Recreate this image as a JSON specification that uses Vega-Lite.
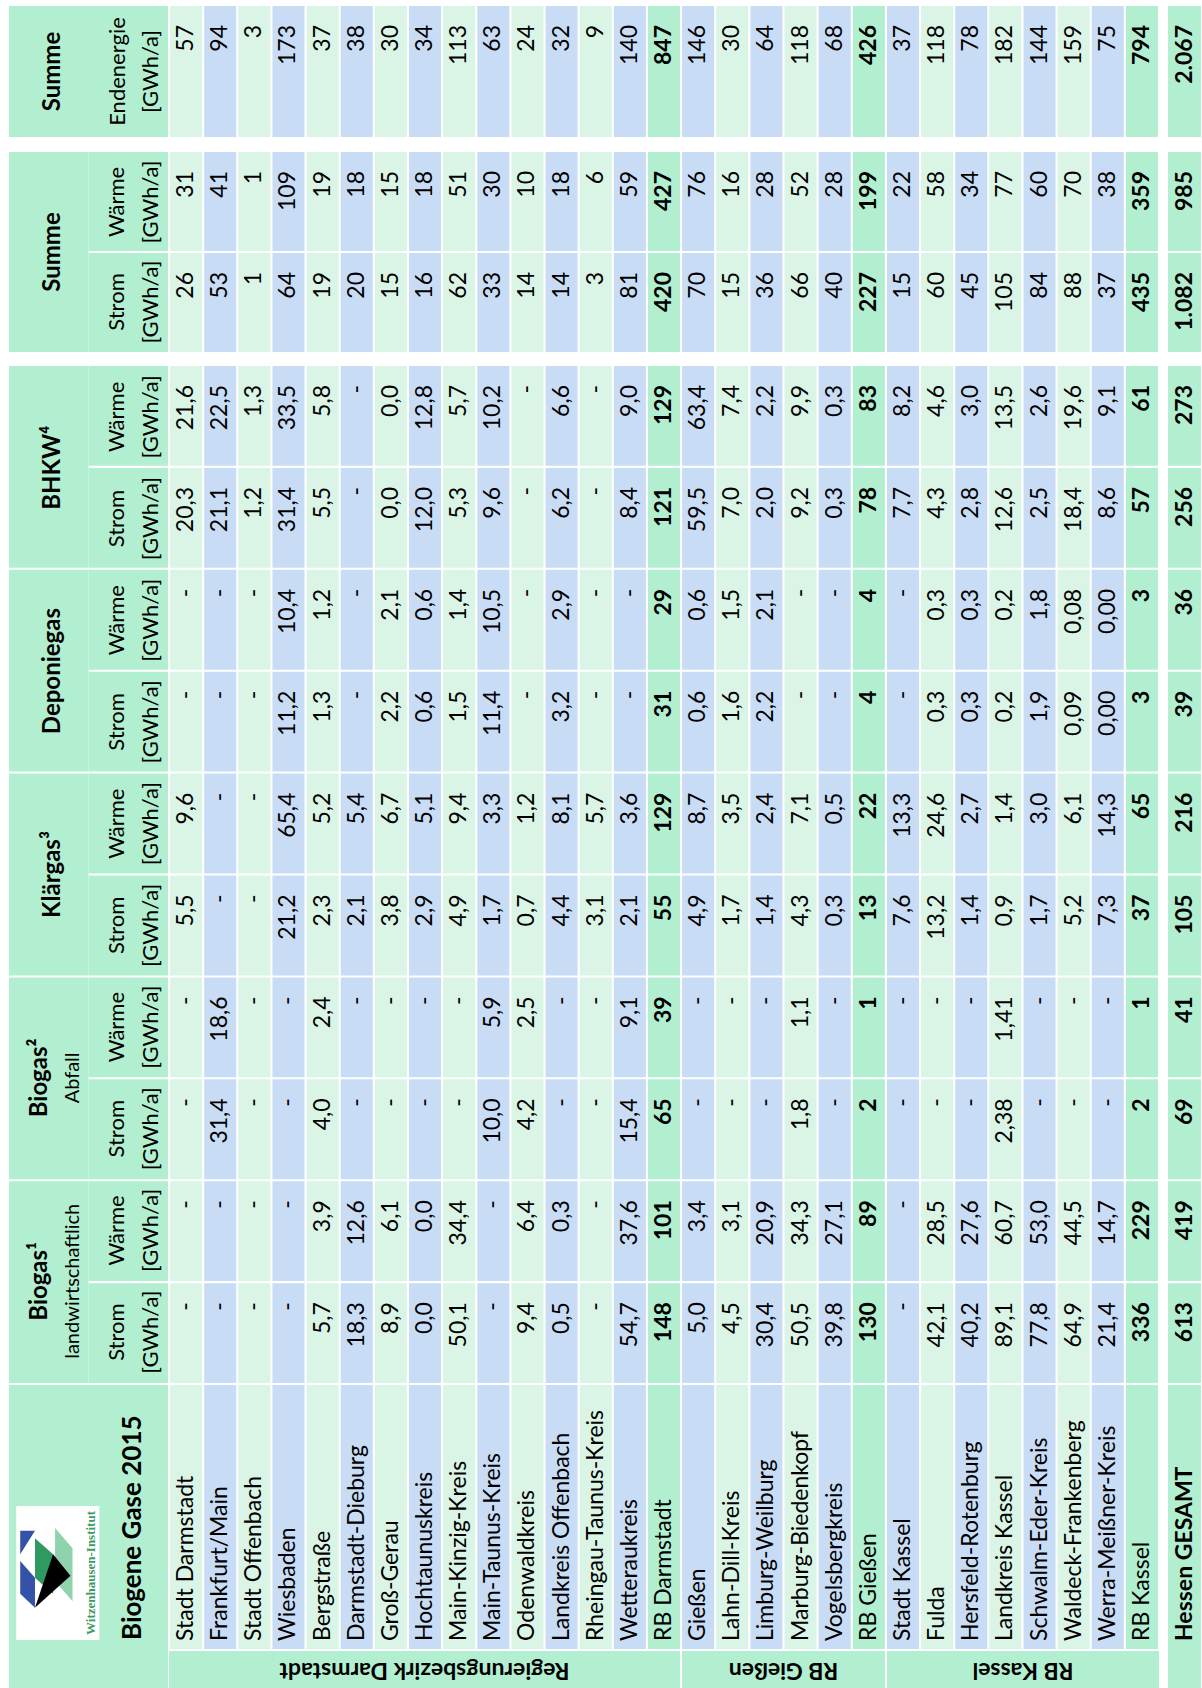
{
"$schema":"https://vega.github.io/schema/vega-lite/v6.json",
"background":"white",
"padding":{"left":9,"top":6,"right":0,"bottom":0},
"config":{"view":{"stroke":null},"text":{"font":"Lato","fontSize":23,"angle":270,"baseline":"middle","color":"#000000"},"rect":{"strokeWidth":0}},
"datasets":{
"t":[
{"r":"Stadt Darmstadt","lS":"-","lW":"-","aS":"-","aW":"-","kS":"5,5","kW":"9,6","dS":"-","dW":"-","bS":"20,3","bW":"21,6","sS":"26","sW":"31","e":"57"},
{"r":"Frankfurt/Main","lS":"-","lW":"-","aS":"31,4","aW":"18,6","kS":"-","kW":"-","dS":"-","dW":"-","bS":"21,1","bW":"22,5","sS":"53","sW":"41","e":"94"},
{"r":"Stadt Offenbach","lS":"-","lW":"-","aS":"-","aW":"-","kS":"-","kW":"-","dS":"-","dW":"-","bS":"1,2","bW":"1,3","sS":"1","sW":"1","e":"3"},
{"r":"Wiesbaden","lS":"-","lW":"-","aS":"-","aW":"-","kS":"21,2","kW":"65,4","dS":"11,2","dW":"10,4","bS":"31,4","bW":"33,5","sS":"64","sW":"109","e":"173"},
{"r":"Bergstraße","lS":"5,7","lW":"3,9","aS":"4,0","aW":"2,4","kS":"2,3","kW":"5,2","dS":"1,3","dW":"1,2","bS":"5,5","bW":"5,8","sS":"19","sW":"19","e":"37"},
{"r":"Darmstadt-Dieburg","lS":"18,3","lW":"12,6","aS":"-","aW":"-","kS":"2,1","kW":"5,4","dS":"-","dW":"-","bS":"-","bW":"-","sS":"20","sW":"18","e":"38"},
{"r":"Groß-Gerau","lS":"8,9","lW":"6,1","aS":"-","aW":"-","kS":"3,8","kW":"6,7","dS":"2,2","dW":"2,1","bS":"0,0","bW":"0,0","sS":"15","sW":"15","e":"30"},
{"r":"Hochtaunuskreis","lS":"0,0","lW":"0,0","aS":"-","aW":"-","kS":"2,9","kW":"5,1","dS":"0,6","dW":"0,6","bS":"12,0","bW":"12,8","sS":"16","sW":"18","e":"34"},
{"r":"Main-Kinzig-Kreis","lS":"50,1","lW":"34,4","aS":"-","aW":"-","kS":"4,9","kW":"9,4","dS":"1,5","dW":"1,4","bS":"5,3","bW":"5,7","sS":"62","sW":"51","e":"113"},
{"r":"Main-Taunus-Kreis","lS":"-","lW":"-","aS":"10,0","aW":"5,9","kS":"1,7","kW":"3,3","dS":"11,4","dW":"10,5","bS":"9,6","bW":"10,2","sS":"33","sW":"30","e":"63"},
{"r":"Odenwaldkreis","lS":"9,4","lW":"6,4","aS":"4,2","aW":"2,5","kS":"0,7","kW":"1,2","dS":"-","dW":"-","bS":"-","bW":"-","sS":"14","sW":"10","e":"24"},
{"r":"Landkreis Offenbach","lS":"0,5","lW":"0,3","aS":"-","aW":"-","kS":"4,4","kW":"8,1","dS":"3,2","dW":"2,9","bS":"6,2","bW":"6,6","sS":"14","sW":"18","e":"32"},
{"r":"Rheingau-Taunus-Kreis","lS":"-","lW":"-","aS":"-","aW":"-","kS":"3,1","kW":"5,7","dS":"-","dW":"-","bS":"-","bW":"-","sS":"3","sW":"6","e":"9"},
{"r":"Wetteraukreis","lS":"54,7","lW":"37,6","aS":"15,4","aW":"9,1","kS":"2,1","kW":"3,6","dS":"-","dW":"-","bS":"8,4","bW":"9,0","sS":"81","sW":"59","e":"140"},
{"r":"RB Darmstadt","lS":"148","lW":"101","aS":"65","aW":"39","kS":"55","kW":"129","dS":"31","dW":"29","bS":"121","bW":"129","sS":"420","sW":"427","e":"847"},
{"r":"Gießen","lS":"5,0","lW":"3,4","aS":"-","aW":"-","kS":"4,9","kW":"8,7","dS":"0,6","dW":"0,6","bS":"59,5","bW":"63,4","sS":"70","sW":"76","e":"146"},
{"r":"Lahn-Dill-Kreis","lS":"4,5","lW":"3,1","aS":"-","aW":"-","kS":"1,7","kW":"3,5","dS":"1,6","dW":"1,5","bS":"7,0","bW":"7,4","sS":"15","sW":"16","e":"30"},
{"r":"Limburg-Weilburg","lS":"30,4","lW":"20,9","aS":"-","aW":"-","kS":"1,4","kW":"2,4","dS":"2,2","dW":"2,1","bS":"2,0","bW":"2,2","sS":"36","sW":"28","e":"64"},
{"r":"Marburg-Biedenkopf","lS":"50,5","lW":"34,3","aS":"1,8","aW":"1,1","kS":"4,3","kW":"7,1","dS":"-","dW":"-","bS":"9,2","bW":"9,9","sS":"66","sW":"52","e":"118"},
{"r":"Vogelsbergkreis","lS":"39,8","lW":"27,1","aS":"-","aW":"-","kS":"0,3","kW":"0,5","dS":"-","dW":"-","bS":"0,3","bW":"0,3","sS":"40","sW":"28","e":"68"},
{"r":"RB Gießen","lS":"130","lW":"89","aS":"2","aW":"1","kS":"13","kW":"22","dS":"4","dW":"4","bS":"78","bW":"83","sS":"227","sW":"199","e":"426"},
{"r":"Stadt Kassel","lS":"-","lW":"-","aS":"-","aW":"-","kS":"7,6","kW":"13,3","dS":"-","dW":"-","bS":"7,7","bW":"8,2","sS":"15","sW":"22","e":"37"},
{"r":"Fulda","lS":"42,1","lW":"28,5","aS":"-","aW":"-","kS":"13,2","kW":"24,6","dS":"0,3","dW":"0,3","bS":"4,3","bW":"4,6","sS":"60","sW":"58","e":"118"},
{"r":"Hersfeld-Rotenburg","lS":"40,2","lW":"27,6","aS":"-","aW":"-","kS":"1,4","kW":"2,7","dS":"0,3","dW":"0,3","bS":"2,8","bW":"3,0","sS":"45","sW":"34","e":"78"},
{"r":"Landkreis Kassel","lS":"89,1","lW":"60,7","aS":"2,38","aW":"1,41","kS":"0,9","kW":"1,4","dS":"0,2","dW":"0,2","bS":"12,6","bW":"13,5","sS":"105","sW":"77","e":"182"},
{"r":"Schwalm-Eder-Kreis","lS":"77,8","lW":"53,0","aS":"-","aW":"-","kS":"1,7","kW":"3,0","dS":"1,9","dW":"1,8","bS":"2,5","bW":"2,6","sS":"84","sW":"60","e":"144"},
{"r":"Waldeck-Frankenberg","lS":"64,9","lW":"44,5","aS":"-","aW":"-","kS":"5,2","kW":"6,1","dS":"0,09","dW":"0,08","bS":"18,4","bW":"19,6","sS":"88","sW":"70","e":"159"},
{"r":"Werra-Meißner-Kreis","lS":"21,4","lW":"14,7","aS":"-","aW":"-","kS":"7,3","kW":"14,3","dS":"0,00","dW":"0,00","bS":"8,6","bW":"9,1","sS":"37","sW":"38","e":"75"},
{"r":"RB Kassel","lS":"336","lW":"229","aS":"2","aW":"1","kS":"37","kW":"65","dS":"3","dW":"3","bS":"57","bW":"61","sS":"435","sW":"359","e":"794"},
{"r":"Hessen GESAMT","lS":"613","lW":"419","aS":"69","aW":"41","kS":"105","kW":"216","dS":"39","dW":"36","bS":"256","bW":"273","sS":"1.082","sW":"985","e":"2.067"}
],
"g5":[{"g":"b","txt":"BHKW⁴"},{"g":"d","txt":"Deponiegas"},{"g":"k","txt":"Klärgas³"},{"g":"a","txt":"Biogas²","sub":"Abfall"},{"g":"l","txt":"Biogas¹","sub":"landwirtschaftlich"}],
"sub10":[{"m":"bW","lab":"Wärme"},{"m":"bS","lab":"Strom"},{"m":"dW","lab":"Wärme"},{"m":"dS","lab":"Strom"},{"m":"kW","lab":"Wärme"},{"m":"kS","lab":"Strom"},{"m":"aW","lab":"Wärme"},{"m":"aS","lab":"Strom"},{"m":"lW","lab":"Wärme"},{"m":"lS","lab":"Strom"}]
},
"hconcat":[
{"hconcat":[
{"vconcat":[
 {"width":159,"height":131,"view":{"fill":"#b2efd0","stroke":null},
  "data":{"values":[{"a":"Summe","b":"Endenergie"}]},
  "layer":[
   {"mark":{"type":"text","fontWeight":"bold","fontSize":24,"align":"center","xOffset":4,"clip":true},
    "encoding":{"x":{"datum":"t","type":"nominal","scale":{"domain":["t","s"],"paddingInner":0,"paddingOuter":0},"axis":null},"text":{"field":"a"}}},
   {"mark":{"type":"text","fontSize":22,"align":"center","xOffset":-10,"clip":true},
    "encoding":{"x":{"datum":"s","type":"nominal","scale":{"domain":["t","s"],"paddingInner":0,"paddingOuter":0},"axis":null},"text":{"field":"b"}}},
   {"mark":{"type":"text","fontSize":22,"align":"center","xOffset":23,"clip":true},
    "encoding":{"x":{"datum":"s","type":"nominal","scale":{"domain":["t","s"],"paddingInner":0,"paddingOuter":0},"axis":null},"text":{"value":"[GWh/a]"}}}
  ]},
 {"vconcat":[
  {"width":159,"height":200,
   "resolve":{"scale":{"y":"independent"}},
   "layer":[
    {"data":{"values":[{"g":"S","txt":"Summe"}]},"mark":{"type":"rect","color":"#b2efd0"},
     "encoding":{"x":{"datum":"t","type":"nominal","scale":{"domain":["t","s"],"paddingInner":0,"paddingOuter":0},"axis":null},"y":{"field":"g","type":"nominal","scale":{"domain":["S"],"paddingInner":0,"paddingOuter":0},"axis":null}}},
    {"data":{"values":[{"m":"sW","lab":"Wärme"},{"m":"sS","lab":"Strom"}]},"mark":{"type":"rect","color":"#b2efd0"},
     "encoding":{"x":{"datum":"s","type":"nominal","scale":{"domain":["t","s"],"paddingInner":0,"paddingOuter":0},"axis":null},"y":{"field":"m","type":"nominal","scale":{"domain":["sW","sS"],"paddingInner":0.02,"paddingOuter":0},"axis":null}}},
    {"data":{"values":[{"g":"S","txt":"Summe"}]},"mark":{"type":"text","fontWeight":"bold","fontSize":24,"align":"center","xOffset":4,"clip":true},
     "encoding":{"x":{"datum":"t","type":"nominal","scale":{"domain":["t","s"],"paddingInner":0,"paddingOuter":0},"axis":null},"y":{"field":"g","type":"nominal","scale":{"domain":["S"],"paddingInner":0,"paddingOuter":0},"axis":null},"text":{"field":"txt"}}},
    {"data":{"values":[{"m":"sW","lab":"Wärme"},{"m":"sS","lab":"Strom"}]},"mark":{"type":"text","fontSize":22,"align":"center","xOffset":-11,"clip":true},
     "encoding":{"x":{"datum":"s","type":"nominal","scale":{"domain":["t","s"],"paddingInner":0,"paddingOuter":0},"axis":null},"y":{"field":"m","type":"nominal","scale":{"domain":["sW","sS"],"paddingInner":0.02,"paddingOuter":0},"axis":null},"text":{"field":"lab"}}},
    {"data":{"values":[{"m":"sW","lab":"Wärme"},{"m":"sS","lab":"Strom"}]},"mark":{"type":"text","fontSize":22,"align":"center","xOffset":23,"clip":true},
     "encoding":{"x":{"datum":"s","type":"nominal","scale":{"domain":["t","s"],"paddingInner":0,"paddingOuter":0},"axis":null},"y":{"field":"m","type":"nominal","scale":{"domain":["sW","sS"],"paddingInner":0.02,"paddingOuter":0},"axis":null},"text":{"value":"[GWh/a]"}}}
   ]},
  {"vconcat":[
   {"width":159,"height":1017,
    "resolve":{"scale":{"y":"independent"}},
    "layer":[
     {"data":{"name":"g5"},"mark":{"type":"rect","color":"#b2efd0"},
      "encoding":{"x":{"datum":"t","type":"nominal","scale":{"domain":["t","s"],"paddingInner":0,"paddingOuter":0},"axis":null},"y":{"field":"g","type":"nominal","scale":{"domain":["b","d","k","a","l"],"paddingInner":0.01,"paddingOuter":0},"axis":null}}},
     {"data":{"name":"sub10"},"mark":{"type":"rect","color":"#b2efd0"},
      "encoding":{"x":{"datum":"s","type":"nominal","scale":{"domain":["t","s"],"paddingInner":0,"paddingOuter":0},"axis":null},"y":{"field":"m","type":"nominal","scale":{"domain":["bW","bS","dW","dS","kW","kS","aW","aS","lW","lS"],"paddingInner":0.02,"paddingOuter":0},"axis":null}}},
     {"data":{"name":"g5"},"transform":[{"filter":"!datum.sub"}],"mark":{"type":"text","fontWeight":"bold","fontSize":24,"align":"center","xOffset":4,"clip":true},
      "encoding":{"x":{"datum":"t","type":"nominal","scale":{"domain":["t","s"],"paddingInner":0,"paddingOuter":0},"axis":null},"y":{"field":"g","type":"nominal","scale":{"domain":["b","d","k","a","l"],"paddingInner":0.01,"paddingOuter":0},"axis":null},"text":{"field":"txt"}}},
     {"data":{"name":"g5"},"transform":[{"filter":"datum.sub"}],"mark":{"type":"text","fontWeight":"bold","fontSize":24,"align":"center","xOffset":-9,"clip":true},
      "encoding":{"x":{"datum":"t","type":"nominal","scale":{"domain":["t","s"],"paddingInner":0,"paddingOuter":0},"axis":null},"y":{"field":"g","type":"nominal","scale":{"domain":["b","d","k","a","l"],"paddingInner":0.01,"paddingOuter":0},"axis":null},"text":{"field":"txt"}}},
     {"data":{"name":"g5"},"transform":[{"filter":"datum.sub"}],"mark":{"type":"text","fontSize":20,"align":"center","xOffset":24,"clip":true},
      "encoding":{"x":{"datum":"t","type":"nominal","scale":{"domain":["t","s"],"paddingInner":0,"paddingOuter":0},"axis":null},"y":{"field":"g","type":"nominal","scale":{"domain":["b","d","k","a","l"],"paddingInner":0.01,"paddingOuter":0},"axis":null},"text":{"field":"sub"}}},
     {"data":{"name":"sub10"},"mark":{"type":"text","fontSize":22,"align":"center","xOffset":-11,"clip":true},
      "encoding":{"x":{"datum":"s","type":"nominal","scale":{"domain":["t","s"],"paddingInner":0,"paddingOuter":0},"axis":null},"y":{"field":"m","type":"nominal","scale":{"domain":["bW","bS","dW","dS","kW","kS","aW","aS","lW","lS"],"paddingInner":0.02,"paddingOuter":0},"axis":null},"text":{"field":"lab"}}},
     {"data":{"name":"sub10"},"mark":{"type":"text","fontSize":22,"align":"center","xOffset":23,"clip":true},
      "encoding":{"x":{"datum":"s","type":"nominal","scale":{"domain":["t","s"],"paddingInner":0,"paddingOuter":0},"axis":null},"y":{"field":"m","type":"nominal","scale":{"domain":["bW","bS","dW","dS","kW","kS","aW","aS","lW","lS"],"paddingInner":0.02,"paddingOuter":0},"axis":null},"text":{"value":"[GWh/a]"}}}
    ]},
   {"width":159,"height":304,"view":{"fill":"#b2efd0","stroke":null},
    "data":{"values":[{"a":"Biogene Gase 2015","w":"Witzenhausen-Institut"}]},
    "encoding":{"x":{"datum":"t","type":"nominal","scale":{"domain":["t","s"],"paddingInner":0,"paddingOuter":0},"axis":null}},
    "layer":[
     {"mark":{"type":"text","fontWeight":"bold","fontSize":26,"align":"left","xOffset":84,"yOffset":103,"clip":true},"encoding":{"text":{"field":"a"}}},
     {"mark":{"type":"point","shape":"M-0.62,-1L0.62,-1L0.62,1L-0.62,1Z","size":17956,"filled":true,"color":"#ffffff","opacity":1,"strokeWidth":0,"xOffset":9,"yOffset":36,"clip":true}},
     {"mark":{"type":"point","shape":"M-0.56,-0.63L-0.34,-0.63L-0.56,-0.28Z M-0.56,-0.18L-0.34,0.07L-0.34,0.52L-0.56,0.31Z","size":17956,"filled":true,"color":"#3352a8","opacity":1,"strokeWidth":0,"xOffset":9,"yOffset":36,"clip":true}},
     {"mark":{"type":"point","shape":"M-0.34,-0.52L-0.07,-0.28L-0.07,0.31L-0.34,0.07Z","size":17956,"filled":true,"color":"#2e9960","opacity":1,"strokeWidth":0,"xOffset":9,"yOffset":36,"clip":true}},
     {"mark":{"type":"point","shape":"M-0.04,-0.67L0.22,-0.37L0.22,0.42L-0.04,0.12Z","size":17956,"filled":true,"color":"#8fd3ad","opacity":1,"strokeWidth":0,"xOffset":9,"yOffset":36,"clip":true}},
     {"mark":{"type":"point","shape":"M-0.07,-0.28L0.19,0.04L-0.34,0.52Z","size":17956,"filled":true,"color":"#000000","opacity":1,"strokeWidth":0,"xOffset":9,"yOffset":36,"clip":true}},
     {"mark":{"type":"text","font":"Liberation Serif","fontWeight":"bold","fontSize":13,"color":"#3d9a63","align":"center","xOffset":42,"yOffset":36,"clip":true},"encoding":{"text":{"field":"w"}}}
    ]}
  ],"spacing":2}
 ],"spacing":13}
],"spacing":15},
{"vconcat":[
 {"width":990,"height":131,
  "data":{"name":"t"},
  "transform":[{"filter":"datum.r !== 'Hessen GESAMT'"},{"fold":["e"],"as":["m","v"]}],
  "encoding":{"x":{"field":"r","type":"nominal","scale":{"domain":["Stadt Darmstadt","Frankfurt/Main","Stadt Offenbach","Wiesbaden","Bergstraße","Darmstadt-Dieburg","Groß-Gerau","Hochtaunuskreis","Main-Kinzig-Kreis","Main-Taunus-Kreis","Odenwaldkreis","Landkreis Offenbach","Rheingau-Taunus-Kreis","Wetteraukreis","RB Darmstadt","Gießen","Lahn-Dill-Kreis","Limburg-Weilburg","Marburg-Biedenkopf","Vogelsbergkreis","RB Gießen","Stadt Kassel","Fulda","Hersfeld-Rotenburg","Landkreis Kassel","Schwalm-Eder-Kreis","Waldeck-Frankenberg","Werra-Meißner-Kreis","RB Kassel"],"paddingInner":0.06,"paddingOuter":0.03},"axis":null},
   "y":{"field":"m","type":"nominal","scale":{"domain":["e"],"paddingInner":0,"paddingOuter":0},"axis":null}},
  "layer":[
   {"mark":"rect","encoding":{"color":{"field":"r","type":"nominal","scale":{"domain":["Stadt Darmstadt","Frankfurt/Main","Stadt Offenbach","Wiesbaden","Bergstraße","Darmstadt-Dieburg","Groß-Gerau","Hochtaunuskreis","Main-Kinzig-Kreis","Main-Taunus-Kreis","Odenwaldkreis","Landkreis Offenbach","Rheingau-Taunus-Kreis","Wetteraukreis","RB Darmstadt","Gießen","Lahn-Dill-Kreis","Limburg-Weilburg","Marburg-Biedenkopf","Vogelsbergkreis","RB Gießen","Stadt Kassel","Fulda","Hersfeld-Rotenburg","Landkreis Kassel","Schwalm-Eder-Kreis","Waldeck-Frankenberg","Werra-Meißner-Kreis","RB Kassel","Hessen GESAMT"],"range":["#daf5e6","#c9dcf5","#daf5e6","#c9dcf5","#daf5e6","#c9dcf5","#daf5e6","#c9dcf5","#daf5e6","#c9dcf5","#daf5e6","#c9dcf5","#daf5e6","#c9dcf5","#b2efd0","#c9dcf5","#daf5e6","#c9dcf5","#daf5e6","#c9dcf5","#b2efd0","#c9dcf5","#daf5e6","#c9dcf5","#daf5e6","#c9dcf5","#daf5e6","#c9dcf5","#b2efd0","#b2efd0"]},"legend":null}}},
   {"transform":[{"filter":{"not":{"field":"r","oneOf":["RB Darmstadt","RB Gießen","RB Kassel"]}}}],"mark":{"type":"text","align":"right","yOffset":19},
    "encoding":{"y":{"field":"m","type":"nominal","bandPosition":0,"scale":{"domain":["e"],"paddingInner":0,"paddingOuter":0},"axis":null},"text":{"field":"v"}}},
   {"transform":[{"filter":{"field":"r","oneOf":["RB Darmstadt","RB Gießen","RB Kassel"]}}],"mark":{"type":"text","align":"right","yOffset":19,"fontWeight":"bold"},
    "encoding":{"y":{"field":"m","type":"nominal","bandPosition":0,"scale":{"domain":["e"],"paddingInner":0,"paddingOuter":0},"axis":null},"text":{"field":"v"}}}
  ]},
 {"vconcat":[
  {"width":990,"height":200,
   "data":{"name":"t"},
   "transform":[{"filter":"datum.r !== 'Hessen GESAMT'"},{"fold":["sW","sS"],"as":["m","v"]}],
   "encoding":{"x":{"field":"r","type":"nominal","scale":{"domain":["Stadt Darmstadt","Frankfurt/Main","Stadt Offenbach","Wiesbaden","Bergstraße","Darmstadt-Dieburg","Groß-Gerau","Hochtaunuskreis","Main-Kinzig-Kreis","Main-Taunus-Kreis","Odenwaldkreis","Landkreis Offenbach","Rheingau-Taunus-Kreis","Wetteraukreis","RB Darmstadt","Gießen","Lahn-Dill-Kreis","Limburg-Weilburg","Marburg-Biedenkopf","Vogelsbergkreis","RB Gießen","Stadt Kassel","Fulda","Hersfeld-Rotenburg","Landkreis Kassel","Schwalm-Eder-Kreis","Waldeck-Frankenberg","Werra-Meißner-Kreis","RB Kassel"],"paddingInner":0.06,"paddingOuter":0.03},"axis":null},
    "y":{"field":"m","type":"nominal","scale":{"domain":["sW","sS"],"paddingInner":0.02,"paddingOuter":0},"axis":null}},
   "layer":[
    {"mark":"rect","encoding":{"color":{"field":"r","type":"nominal","scale":{"domain":["Stadt Darmstadt","Frankfurt/Main","Stadt Offenbach","Wiesbaden","Bergstraße","Darmstadt-Dieburg","Groß-Gerau","Hochtaunuskreis","Main-Kinzig-Kreis","Main-Taunus-Kreis","Odenwaldkreis","Landkreis Offenbach","Rheingau-Taunus-Kreis","Wetteraukreis","RB Darmstadt","Gießen","Lahn-Dill-Kreis","Limburg-Weilburg","Marburg-Biedenkopf","Vogelsbergkreis","RB Gießen","Stadt Kassel","Fulda","Hersfeld-Rotenburg","Landkreis Kassel","Schwalm-Eder-Kreis","Waldeck-Frankenberg","Werra-Meißner-Kreis","RB Kassel","Hessen GESAMT"],"range":["#daf5e6","#c9dcf5","#daf5e6","#c9dcf5","#daf5e6","#c9dcf5","#daf5e6","#c9dcf5","#daf5e6","#c9dcf5","#daf5e6","#c9dcf5","#daf5e6","#c9dcf5","#b2efd0","#c9dcf5","#daf5e6","#c9dcf5","#daf5e6","#c9dcf5","#b2efd0","#c9dcf5","#daf5e6","#c9dcf5","#daf5e6","#c9dcf5","#daf5e6","#c9dcf5","#b2efd0","#b2efd0"]},"legend":null}}},
    {"transform":[{"filter":{"not":{"field":"r","oneOf":["RB Darmstadt","RB Gießen","RB Kassel"]}}}],"mark":{"type":"text","align":"right","yOffset":19},
     "encoding":{"y":{"field":"m","type":"nominal","bandPosition":0,"scale":{"domain":["sW","sS"],"paddingInner":0.02,"paddingOuter":0},"axis":null},"text":{"field":"v"}}},
    {"transform":[{"filter":{"field":"r","oneOf":["RB Darmstadt","RB Gießen","RB Kassel"]}}],"mark":{"type":"text","align":"right","yOffset":19,"fontWeight":"bold"},
     "encoding":{"y":{"field":"m","type":"nominal","bandPosition":0,"scale":{"domain":["sW","sS"],"paddingInner":0.02,"paddingOuter":0},"axis":null},"text":{"field":"v"}}}
   ]},
  {"vconcat":[
   {"width":990,"height":1017,
    "data":{"name":"t"},
    "transform":[{"filter":"datum.r !== 'Hessen GESAMT'"},{"fold":["bW","bS","dW","dS","kW","kS","aW","aS","lW","lS"],"as":["m","v"]}],
    "encoding":{"x":{"field":"r","type":"nominal","scale":{"domain":["Stadt Darmstadt","Frankfurt/Main","Stadt Offenbach","Wiesbaden","Bergstraße","Darmstadt-Dieburg","Groß-Gerau","Hochtaunuskreis","Main-Kinzig-Kreis","Main-Taunus-Kreis","Odenwaldkreis","Landkreis Offenbach","Rheingau-Taunus-Kreis","Wetteraukreis","RB Darmstadt","Gießen","Lahn-Dill-Kreis","Limburg-Weilburg","Marburg-Biedenkopf","Vogelsbergkreis","RB Gießen","Stadt Kassel","Fulda","Hersfeld-Rotenburg","Landkreis Kassel","Schwalm-Eder-Kreis","Waldeck-Frankenberg","Werra-Meißner-Kreis","RB Kassel"],"paddingInner":0.06,"paddingOuter":0.03},"axis":null},
     "y":{"field":"m","type":"nominal","scale":{"domain":["bW","bS","dW","dS","kW","kS","aW","aS","lW","lS"],"paddingInner":0.02,"paddingOuter":0},"axis":null}},
    "layer":[
     {"mark":"rect","encoding":{"color":{"field":"r","type":"nominal","scale":{"domain":["Stadt Darmstadt","Frankfurt/Main","Stadt Offenbach","Wiesbaden","Bergstraße","Darmstadt-Dieburg","Groß-Gerau","Hochtaunuskreis","Main-Kinzig-Kreis","Main-Taunus-Kreis","Odenwaldkreis","Landkreis Offenbach","Rheingau-Taunus-Kreis","Wetteraukreis","RB Darmstadt","Gießen","Lahn-Dill-Kreis","Limburg-Weilburg","Marburg-Biedenkopf","Vogelsbergkreis","RB Gießen","Stadt Kassel","Fulda","Hersfeld-Rotenburg","Landkreis Kassel","Schwalm-Eder-Kreis","Waldeck-Frankenberg","Werra-Meißner-Kreis","RB Kassel","Hessen GESAMT"],"range":["#daf5e6","#c9dcf5","#daf5e6","#c9dcf5","#daf5e6","#c9dcf5","#daf5e6","#c9dcf5","#daf5e6","#c9dcf5","#daf5e6","#c9dcf5","#daf5e6","#c9dcf5","#b2efd0","#c9dcf5","#daf5e6","#c9dcf5","#daf5e6","#c9dcf5","#b2efd0","#c9dcf5","#daf5e6","#c9dcf5","#daf5e6","#c9dcf5","#daf5e6","#c9dcf5","#b2efd0","#b2efd0"]},"legend":null}}},
     {"transform":[{"filter":{"not":{"field":"r","oneOf":["RB Darmstadt","RB Gießen","RB Kassel"]}}}],"mark":{"type":"text","align":"right","yOffset":19},
      "encoding":{"y":{"field":"m","type":"nominal","bandPosition":0,"scale":{"domain":["bW","bS","dW","dS","kW","kS","aW","aS","lW","lS"],"paddingInner":0.02,"paddingOuter":0},"axis":null},"text":{"field":"v"}}},
     {"transform":[{"filter":{"field":"r","oneOf":["RB Darmstadt","RB Gießen","RB Kassel"]}}],"mark":{"type":"text","align":"right","yOffset":19,"fontWeight":"bold"},
      "encoding":{"y":{"field":"m","type":"nominal","bandPosition":0,"scale":{"domain":["bW","bS","dW","dS","kW","kS","aW","aS","lW","lS"],"paddingInner":0.02,"paddingOuter":0},"axis":null},"text":{"field":"v"}}}
    ]},
   {"width":990,"height":264,
    "data":{"name":"t"},
    "transform":[{"filter":"datum.r !== 'Hessen GESAMT'"}],
    "encoding":{"x":{"field":"r","type":"nominal","scale":{"domain":["Stadt Darmstadt","Frankfurt/Main","Stadt Offenbach","Wiesbaden","Bergstraße","Darmstadt-Dieburg","Groß-Gerau","Hochtaunuskreis","Main-Kinzig-Kreis","Main-Taunus-Kreis","Odenwaldkreis","Landkreis Offenbach","Rheingau-Taunus-Kreis","Wetteraukreis","RB Darmstadt","Gießen","Lahn-Dill-Kreis","Limburg-Weilburg","Marburg-Biedenkopf","Vogelsbergkreis","RB Gießen","Stadt Kassel","Fulda","Hersfeld-Rotenburg","Landkreis Kassel","Schwalm-Eder-Kreis","Waldeck-Frankenberg","Werra-Meißner-Kreis","RB Kassel"],"paddingInner":0.06,"paddingOuter":0.03},"axis":null}},
    "layer":[
     {"mark":"rect","encoding":{"y":{"datum":"n","type":"nominal","scale":{"paddingInner":0,"paddingOuter":0},"axis":null},"color":{"field":"r","type":"nominal","scale":{"domain":["Stadt Darmstadt","Frankfurt/Main","Stadt Offenbach","Wiesbaden","Bergstraße","Darmstadt-Dieburg","Groß-Gerau","Hochtaunuskreis","Main-Kinzig-Kreis","Main-Taunus-Kreis","Odenwaldkreis","Landkreis Offenbach","Rheingau-Taunus-Kreis","Wetteraukreis","RB Darmstadt","Gießen","Lahn-Dill-Kreis","Limburg-Weilburg","Marburg-Biedenkopf","Vogelsbergkreis","RB Gießen","Stadt Kassel","Fulda","Hersfeld-Rotenburg","Landkreis Kassel","Schwalm-Eder-Kreis","Waldeck-Frankenberg","Werra-Meißner-Kreis","RB Kassel","Hessen GESAMT"],"range":["#daf5e6","#c9dcf5","#daf5e6","#c9dcf5","#daf5e6","#c9dcf5","#daf5e6","#c9dcf5","#daf5e6","#c9dcf5","#daf5e6","#c9dcf5","#daf5e6","#c9dcf5","#b2efd0","#c9dcf5","#daf5e6","#c9dcf5","#daf5e6","#c9dcf5","#b2efd0","#c9dcf5","#daf5e6","#c9dcf5","#daf5e6","#c9dcf5","#daf5e6","#c9dcf5","#b2efd0","#b2efd0"]},"legend":null}}},
     {"mark":{"type":"text","align":"left","yOffset":124},"encoding":{"text":{"field":"r"}}}
    ]},
   {"hconcat":[
     {"width":511,"height":38,"view":{"fill":"#b2efd0","stroke":null},"data":{"values":[{"txt":"Regierungsbezirk Darmstadt"}]},"mark":{"type":"text","angle":180,"align":"center","fontWeight":"bold","fontSize":23},"encoding":{"text":{"field":"txt"}}},
     {"width":203,"height":38,"view":{"fill":"#b2efd0","stroke":null},"data":{"values":[{"txt":"RB Gießen"}]},"mark":{"type":"text","angle":180,"align":"center","fontWeight":"bold","fontSize":23},"encoding":{"text":{"field":"txt"}}},
     {"width":272,"height":38,"view":{"fill":"#b2efd0","stroke":null},"data":{"values":[{"txt":"RB Kassel"}]},"mark":{"type":"text","angle":180,"align":"center","fontWeight":"bold","fontSize":23},"encoding":{"text":{"field":"txt"}}}
   ],"spacing":2}
  ],"spacing":2}
 ],"spacing":13}
],"spacing":15}
],"spacing":1},
{"vconcat":[
 {"width":35,"height":131,
  "data":{"name":"t"},
  "transform":[{"filter":"datum.r === 'Hessen GESAMT'"},{"fold":["e"],"as":["m","v"]}],
  "encoding":{"x":{"field":"r","type":"nominal","scale":{"domain":["Hessen GESAMT"],"paddingInner":0.06,"paddingOuter":0.03},"axis":null},
   "y":{"field":"m","type":"nominal","scale":{"domain":["e"],"paddingInner":0,"paddingOuter":0},"axis":null}},
  "layer":[
   {"mark":{"type":"rect","color":"#b2efd0"}},
   {"mark":{"type":"text","align":"right","yOffset":19,"fontWeight":"bold"},
    "encoding":{"y":{"field":"m","type":"nominal","bandPosition":0,"scale":{"domain":["e"],"paddingInner":0,"paddingOuter":0},"axis":null},"text":{"field":"v"}}}
  ]},
 {"vconcat":[
  {"width":35,"height":200,
   "data":{"name":"t"},
   "transform":[{"filter":"datum.r === 'Hessen GESAMT'"},{"fold":["sW","sS"],"as":["m","v"]}],
   "encoding":{"x":{"field":"r","type":"nominal","scale":{"domain":["Hessen GESAMT"],"paddingInner":0.06,"paddingOuter":0.03},"axis":null},
    "y":{"field":"m","type":"nominal","scale":{"domain":["sW","sS"],"paddingInner":0.02,"paddingOuter":0},"axis":null}},
   "layer":[
    {"mark":{"type":"rect","color":"#b2efd0"}},
    {"mark":{"type":"text","align":"right","yOffset":19,"fontWeight":"bold"},
     "encoding":{"y":{"field":"m","type":"nominal","bandPosition":0,"scale":{"domain":["sW","sS"],"paddingInner":0.02,"paddingOuter":0},"axis":null},"text":{"field":"v"}}}
   ]},
  {"vconcat":[
   {"width":35,"height":1017,
    "data":{"name":"t"},
    "transform":[{"filter":"datum.r === 'Hessen GESAMT'"},{"fold":["bW","bS","dW","dS","kW","kS","aW","aS","lW","lS"],"as":["m","v"]}],
    "encoding":{"x":{"field":"r","type":"nominal","scale":{"domain":["Hessen GESAMT"],"paddingInner":0.06,"paddingOuter":0.03},"axis":null},
     "y":{"field":"m","type":"nominal","scale":{"domain":["bW","bS","dW","dS","kW","kS","aW","aS","lW","lS"],"paddingInner":0.02,"paddingOuter":0},"axis":null}},
    "layer":[
     {"mark":{"type":"rect","color":"#b2efd0"}},
     {"mark":{"type":"text","align":"right","yOffset":19,"fontWeight":"bold"},
      "encoding":{"y":{"field":"m","type":"nominal","bandPosition":0,"scale":{"domain":["bW","bS","dW","dS","kW","kS","aW","aS","lW","lS"],"paddingInner":0.02,"paddingOuter":0},"axis":null},"text":{"field":"v"}}}
    ]},
   {"width":35,"height":304,
    "data":{"name":"t"},
    "transform":[{"filter":"datum.r === 'Hessen GESAMT'"}],
    "encoding":{"x":{"field":"r","type":"nominal","scale":{"domain":["Hessen GESAMT"],"paddingInner":0.06,"paddingOuter":0.03},"axis":null}},
    "layer":[
     {"mark":{"type":"rect","color":"#b2efd0"},"encoding":{"y":{"datum":"n","type":"nominal","scale":{"paddingInner":0,"paddingOuter":0},"axis":null}}},
     {"mark":{"type":"text","align":"left","yOffset":104,"fontWeight":"bold"},"encoding":{"text":{"field":"r"}}}
    ]}
  ],"spacing":2}
 ],"spacing":13}
],"spacing":15}
],
"spacing":8
}
